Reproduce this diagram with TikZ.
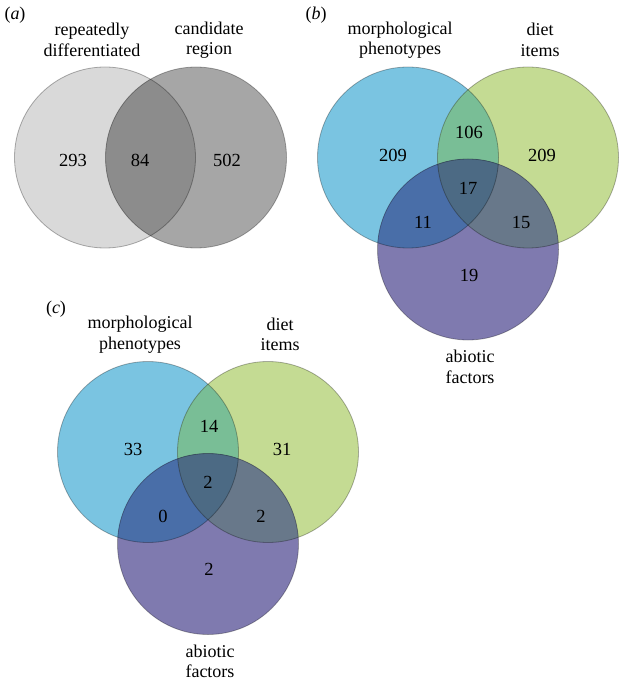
\documentclass[tikz,border=0pt]{standalone}
\usepackage{fontspec}
\setmainfont{Liberation Serif}
\usepackage{tikz}
\definecolor{grayrep}{RGB}{217,217,217}
\definecolor{graycand}{RGB}{166,166,166}
\definecolor{grayboth}{RGB}{140,140,140}
\definecolor{setblue}{RGB}{122,196,225}
\definecolor{setgreen}{RGB}{196,219,147}
\definecolor{setpurple}{RGB}{127,122,175}
\definecolor{bluegreen}{RGB}{121,190,150}
\definecolor{bluepurple}{RGB}{73,110,168}
\definecolor{greenpurple}{RGB}{104,120,138}
\definecolor{allthree}{RGB}{76,106,132}

\begin{document}
\begin{tikzpicture}[x=1pt,y=-1pt,
  vennset/.style={circle,minimum size=181pt,inner sep=0pt},
  rim/.style={draw=black,draw opacity=.3,line width=.8pt},
  paneltag/.style={font=\fontsize{18}{20}\selectfont},
  lbl/.style={align=center,font=\fontsize{18}{20.5}\selectfont},
  cnt/.style={font=\fontsize{18.5}{20}\selectfont}]
\useasboundingbox (0,0) rectangle (621,684);
% (a) two sets
\node[paneltag] (tag-a) at (15,15) {(\textit{a})};
\node[vennset,fill=grayrep] (rep) at (105,157.5) {};
\node[vennset,fill=graycand] (cand) at (196,157.5) {};
\begin{scope}
  \clip (rep.center) circle[radius=90.5];
  \fill[grayboth] (cand.center) circle[radius=90.5];
\end{scope}
\foreach \c in {rep,cand}{\draw[rim] (\c.center) circle[radius=90.5];}
\node[lbl] (rep-lbl) at (92,40) {repeatedly\\differentiated};
\node[lbl] (cand-lbl) at (209,40) {candidate\\region};
\node[cnt] (n-rep) at (73,160) {293};
\node[cnt] (n-both) at (140,160) {84};
\node[cnt] (n-cand) at (227,160) {502};
% (b) and (c) three sets, same layout
\foreach \p/\sx/\sy/\nM/\nMD/\nD/\nAll/\nMA/\nDA/\nA in
  {b/0/0/209/106/209/17/11/15/19, c/-260/294.5/33/14/31/2/0/2/2}{
\begin{scope}[shift={(\sx,\sy)}]
  \node[paneltag] (tag-\p) at (316,15) {(\textit{\p})};
  \node[vennset,fill=setblue] (\p-morph) at (408,157.5) {};
  \node[vennset,fill=setgreen] (\p-diet) at (528,157.5) {};
  \node[vennset,fill=setpurple] (\p-abio) at (468,249.5) {};
  \begin{scope}
    \clip (\p-morph.center) circle[radius=90.5];
    \fill[bluegreen] (\p-diet.center) circle[radius=90.5];
    \fill[bluepurple] (\p-abio.center) circle[radius=90.5];
  \end{scope}
  \begin{scope}
    \clip (\p-diet.center) circle[radius=90.5];
    \fill[greenpurple] (\p-abio.center) circle[radius=90.5];
  \end{scope}
  \begin{scope}
    \clip (\p-morph.center) circle[radius=90.5];
    \clip (\p-diet.center) circle[radius=90.5];
    \fill[allthree] (\p-abio.center) circle[radius=90.5];
  \end{scope}
  \foreach \c in {morph,diet,abio}{\draw[rim] (\p-\c.center) circle[radius=90.5];}
  \node[lbl] (\p-morph-lbl) at (400,40) {morphological\\phenotypes};
  \node[lbl] (\p-diet-lbl) at (540,40) {diet\\items};
  \node[lbl] (\p-abio-lbl) at (470,367) {abiotic\\factors};
  \node[cnt] (\p-nM) at (393,155) {\nM};
  \node[cnt] (\p-nMD) at (469,132) {\nMD};
  \node[cnt] (\p-nD) at (542,155) {\nD};
  \node[cnt] (\p-nAll) at (468,188) {\nAll};
  \node[cnt] (\p-nMA) at (423,222) {\nMA};
  \node[cnt] (\p-nDA) at (521,222) {\nDA};
  \node[cnt] (\p-nA) at (469,275) {\nA};
\end{scope}}
\end{tikzpicture}
\end{document}
